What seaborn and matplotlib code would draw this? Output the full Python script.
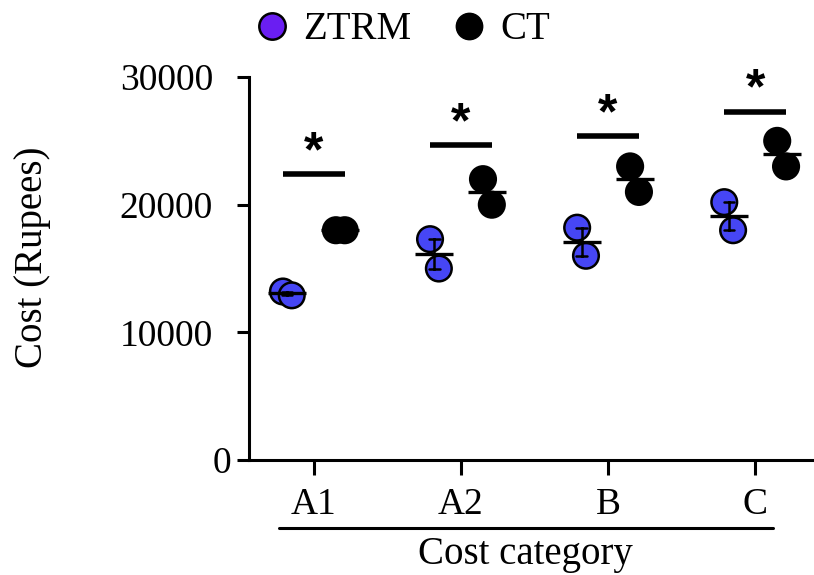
import numpy as np
import pandas as pd
import seaborn as sns
import matplotlib.pyplot as plt
import matplotlib.transforms as mtransforms
from matplotlib.lines import Line2D

# data
categories = ["A1", "A2", "B", "C"]
groups = ["ZTRM", "CT"]
ztrm_cost = [[13200, 12900], [17300, 15000], [18200, 16000], [20200, 18000]]
ct_cost = [[18000, 18000], [22000, 20000], [23000, 21000], [25000, 23000]]
sig_height = [22400, 24700, 25400, 27300]
sig_labels = ["*", "*", "*", "*"]

rows = []
for g, vals in zip(groups, [ztrm_cost, ct_cost]):
    for c, reps in zip(categories, vals):
        for r, v in enumerate(reps):
            rows.append({"category": c, "group": g, "rep": r, "cost": v})
df = pd.DataFrame(rows)

# horizontal placement (layout only)
group_shift = {"ZTRM": -0.18, "CT": 0.18}
rep_shift = [-0.03, 0.03]
df["xpos"] = (df["category"].map({c: i for i, c in enumerate(categories)})
              + df["group"].map(group_shift)
              + df["rep"].map(lambda r: rep_shift[r]))

sns.set_theme(style="ticks")
plt.rcParams["font.family"] = ["Liberation Serif", "DejaVu Serif"]
plt.rcParams["text.color"] = "black"
plt.rcParams["axes.labelcolor"] = "black"
plt.rcParams["xtick.color"] = "black"
plt.rcParams["ytick.color"] = "black"

fig = plt.figure(figsize=(8.14, 5.75), dpi=100)
ax = fig.add_axes([0.306, 0.2, 0.694, 0.666])

point_colors = {"ZTRM": "#4646f5", "CT": "black"}
sns.scatterplot(data=df, x="xpos", y="cost", hue="group", hue_order=groups,
                palette=point_colors, s=340, edgecolor="black", linewidth=1.8,
                legend=False, ax=ax, zorder=2)

sns.pointplot(data=df, x="category", y="cost", hue="group", order=categories,
              hue_order=groups, palette={"ZTRM": "black", "CT": "black"},
              dodge=0.36, errorbar="se", markers="_", linestyle="none",
              markersize=27, markeredgewidth=2.4, capsize=0.07,
              err_kws={"linewidth": 1.8}, legend=False, ax=ax)
for coll in ax.lines:
    coll.set_zorder(4)

# significance bars
for i, (h, lab) in enumerate(zip(sig_height, sig_labels)):
    ax.plot([i - 0.21, i + 0.21], [h, h], color="black", lw=4,
            solid_capstyle="butt", clip_on=False)
    ax.annotate(lab, xy=(i, h), xytext=(0, 15), textcoords="offset points",
                ha="center", va="center", fontsize=36, fontweight="bold",
                family="Liberation Sans", color="black")

ax.set_xlim(-0.44, 3.40)
ax.set_ylim(0, 30000)
ax.set_yticks([0, 10000, 20000, 30000])
ax.set_xticks(range(len(categories)))
ax.set_xticklabels(categories)
ax.set_xlabel("")
ax.set_ylabel("")

for side in ["top", "right"]:
    ax.spines[side].set_visible(False)
for side in ["left", "bottom"]:
    ax.spines[side].set_linewidth(2.2)
    ax.spines[side].set_color("black")
ax.tick_params(axis="y", length=9, width=2.2, pad=17, labelsize=27, colors="black")
ax.tick_params(axis="x", length=11, width=2.2, pad=9, labelsize=27, colors="black")
for lab in ax.get_yticklabels():
    if lab.get_text() == "0":
        lab.set_transform(lab.get_transform() + mtransforms.ScaledTranslation(
            18 / 100, 0, fig.dpi_scale_trans))

# category underline and axis titles
trans = mtransforms.blended_transform_factory(ax.transData, fig.transFigure)
ax.plot([-0.24, 3.12], [0.082, 0.082], color="black", lw=2.2, transform=trans,
        clip_on=False)
fig.text(0.645, 0.036, "Cost category", ha="center", va="center", fontsize=28)
fig.text(0.04, 0.553, "Cost (Rupees)", ha="center", va="center", fontsize=28,
         rotation=90)

handles = [Line2D([], [], marker="o", ls="none", markersize=19,
                  markerfacecolor="#6a1ef2", markeredgecolor="black",
                  markeredgewidth=1.8, label="ZTRM"),
           Line2D([], [], marker="o", ls="none", markersize=19,
                  markerfacecolor="black", markeredgecolor="black",
                  label="CT")]
fig.legend(handles=handles, loc="center left", bbox_to_anchor=(0.31, 0.948),
           ncol=2, frameon=False, fontsize=28, handletextpad=0.3,
           columnspacing=1.0, borderaxespad=0, borderpad=0, handlelength=1.0)

fig.savefig("out.png", dpi=100)
